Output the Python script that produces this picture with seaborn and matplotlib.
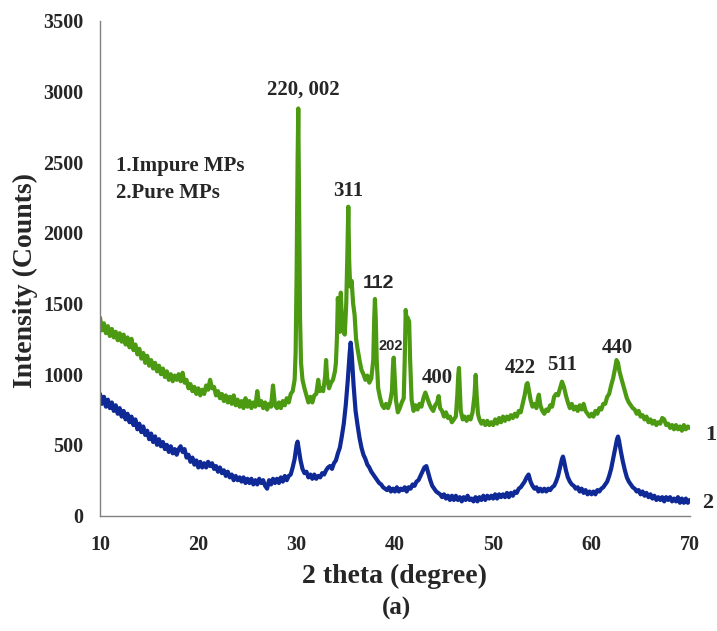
import matplotlib
matplotlib.use("Agg")
import matplotlib.pyplot as plt
import seaborn as sns
import pandas as pd

# ---------------- data ----------------
impure_pts = [
 (10.0,1400),(10.2,1310),(10.4,1360),(10.6,1290),(10.8,1340),(11.0,1270),(11.2,1320),(11.4,1260),(11.6,1300),(11.8,1240),
 (12.0,1290),(12.2,1230),(12.4,1280),(12.6,1210),(12.8,1260),(13.0,1190),(13.2,1250),(13.4,1170),(13.6,1210),(13.8,1140),
 (14.0,1180),(14.2,1110),(14.4,1150),(14.6,1080),(14.8,1130),(15.0,1060),(15.2,1100),(15.4,1040),(15.6,1080),(15.8,1020),
 (16.0,1060),(16.2,1000),(16.4,1040),(16.6,980),(16.8,1020),(17.0,960),(17.2,1000),(17.4,950),(17.6,990),(17.8,960),
 (18.0,1000),(18.2,950),(18.4,1010),(18.6,940),(18.8,960),(19.0,900),(19.2,930),(19.4,880),(19.6,910),(19.8,860),
 (20.0,900),(20.2,850),(20.4,890),(20.6,860),(20.8,920),(21.0,890),(21.2,960),(21.4,900),(21.6,910),(21.8,850),
 (22.0,880),(22.2,830),(22.4,860),(22.6,810),(22.8,850),(23.0,800),(23.2,840),(23.4,790),(23.6,850),(23.8,780),
 (24.0,820),(24.2,770),(24.4,810),(24.6,760),(24.8,830),(25.0,770),(25.2,810),(25.4,760),(25.6,800),(25.8,770),
 (26.0,880),(26.2,780),(26.4,810),(26.6,760),(26.8,800),(27.0,750),(27.2,790),(27.4,770),(27.6,920),(27.8,780),
 (28.0,760),(28.2,800),(28.4,760),(28.6,810),(28.8,780),(29.0,830),(29.2,800),(29.4,860),(29.6,880),(29.8,960),
 (29.9,1150),(30.0,1700),(30.1,2500),(30.17,2880),(30.25,2200),(30.35,1400),(30.45,1080),(30.6,960),(30.8,900),(31.0,850),
 (31.2,800),(31.4,840),(31.6,800),(31.8,850),(32.0,860),(32.2,960),(32.35,880),(32.5,900),(32.7,880),(32.9,980),
 (33.0,1100),(33.1,980),(33.3,900),(33.5,940),(33.7,960),(33.9,1020),(34.0,1080),(34.1,1250),(34.2,1540),(34.3,1350),
 (34.4,1300),(34.5,1577),(34.6,1400),(34.75,1300),(34.9,1280),(35.05,1500),(35.15,1800),(35.26,2185),(35.35,1800),(35.45,1620),
 (35.6,1660),(35.75,1500),(35.9,1420),(36.05,1250),(36.2,1180),(36.4,1100),(36.6,1030),(36.8,1000),(37.0,960),(37.2,990),
 (37.4,940),(37.6,970),(37.8,1100),(37.9,1400),(37.97,1532),(38.05,1400),(38.15,1100),(38.3,900),(38.5,830),(38.7,780),
 (38.9,760),(39.1,790),(39.3,760),(39.5,800),(39.7,880),(39.8,1050),(39.88,1117),(39.97,1000),(40.1,820),(40.3,730),
 (40.5,760),(40.7,800),(40.9,830),(41.0,1100),(41.1,1454),(41.2,1380),(41.3,1400),(41.45,1372),(41.55,1100),(41.7,820),
 (41.9,740),(42.1,780),(42.3,750),(42.5,790),(42.7,770),(42.9,830),(43.1,870),(43.3,830),(43.5,790),(43.7,760),
 (43.9,740),(44.1,780),(44.3,800),(44.45,845),(44.6,760),(44.8,740),(45.0,700),(45.2,730),(45.4,690),(45.6,700),
 (45.8,660),(46.0,680),(46.2,700),(46.35,850),(46.45,1000),(46.52,1044),(46.6,900),(46.7,740),(46.9,680),(47.1,700),
 (47.3,670),(47.5,700),(47.7,680),(47.9,730),(48.1,850),(48.22,995),(48.32,850),(48.45,720),(48.6,680),(48.8,650),
 (49.0,670),(49.2,640),(49.4,670),(49.6,640),(49.8,660),(50.0,640),(50.2,680),(50.4,650),(50.6,690),(50.8,660),
 (51.0,700),(51.2,670),(51.4,700),(51.6,680),(51.8,710),(52.0,690),(52.2,720),(52.4,700),(52.6,740),(52.8,730),
 (53.0,790),(53.2,850),(53.4,930),(53.5,937),(53.6,900),(53.8,820),(54.0,770),(54.2,790),(54.4,760),(54.55,830),
 (54.65,855),(54.8,780),(55.0,740),(55.2,720),(55.4,750),(55.6,740),(55.8,780),(56.0,770),(56.2,840),(56.4,860),
 (56.6,850),(56.8,900),(57.0,947),(57.2,910),(57.4,850),(57.6,800),(57.8,760),(58.0,790),(58.2,750),(58.4,770),
 (58.6,740),(58.8,780),(59.0,750),(59.2,790),(59.4,740),(59.6,720),(59.8,700),(60.0,720),(60.2,700),(60.4,740),
 (60.6,720),(60.8,760),(61.0,750),(61.2,790),(61.4,790),(61.6,840),(61.8,860),(62.0,920),(62.2,970),(62.4,1040),
 (62.55,1100),(62.7,1080),(62.85,1020),(63.0,980),(63.2,930),(63.4,880),(63.6,830),(63.8,800),(64.0,780),(64.2,760),
 (64.4,750),(64.6,720),(64.8,740),(65.0,700),(65.2,710),(65.4,680),(65.6,700),(65.8,660),(66.0,680),(66.2,650),
 (66.4,670),(66.6,640),(66.8,660),(67.0,650),(67.2,690),(67.4,680),(67.6,640),(67.8,650),(68.0,620),(68.2,640),
 (68.4,610),(68.6,640),(68.8,610),(69.0,630),(69.2,600),(69.4,640),(69.6,610),(69.8,630),(70.0,620),
]
pure_pts = [
 (10.0,860),(10.2,790),(10.4,840),(10.6,770),(10.8,820),(11.0,760),(11.2,800),(11.4,740),(11.6,780),(11.8,720),
 (12.0,760),(12.2,700),(12.4,740),(12.6,680),(12.8,720),(13.0,660),(13.2,700),(13.4,640),(13.6,680),(13.8,610),
 (14.0,650),(14.2,590),(14.4,630),(14.6,570),(14.8,600),(15.0,540),(15.2,580),(15.4,520),(15.6,560),(15.8,500),
 (16.0,540),(16.2,490),(16.4,520),(16.6,470),(16.8,500),(17.0,450),(17.2,490),(17.4,440),(17.6,470),(17.8,430),
 (18.0,470),(18.2,490),(18.4,450),(18.6,470),(18.8,410),(19.0,430),(19.2,380),(19.4,410),(19.6,360),(19.8,390),
 (20.0,340),(20.2,380),(20.4,340),(20.6,370),(20.8,340),(21.0,380),(21.2,350),(21.4,370),(21.6,330),(21.8,350),
 (22.0,310),(22.2,340),(22.4,300),(22.6,320),(22.8,280),(23.0,310),(23.2,270),(23.4,290),(23.6,250),(23.8,280),
 (24.0,250),(24.2,270),(24.4,240),(24.6,270),(24.8,230),(25.0,260),(25.2,230),(25.4,260),(25.6,220),(25.8,250),
 (26.0,220),(26.2,260),(26.4,230),(26.6,250),(26.8,210),(27.0,190),(27.2,250),(27.4,220),(27.6,260),(27.8,230),
 (28.0,260),(28.2,230),(28.4,270),(28.6,240),(28.8,280),(29.0,250),(29.2,280),(29.4,290),(29.6,340),(29.8,400),
 (30.0,500),(30.1,523),(30.2,480),(30.4,390),(30.6,330),(30.8,300),(31.0,310),(31.2,270),(31.4,290),(31.6,260),
 (31.8,290),(32.0,260),(32.2,280),(32.4,270),(32.6,300),(32.8,290),(33.0,320),(33.2,340),(33.4,350),(33.6,330),
 (33.8,370),(34.0,390),(34.2,440),(34.4,480),(34.6,560),(34.8,650),(35.0,780),(35.2,950),(35.4,1150),(35.5,1223),
 (35.6,1150),(35.8,920),(36.0,740),(36.2,640),(36.4,550),(36.6,480),(36.8,430),(37.0,400),(37.2,360),(37.4,340),
 (37.6,310),(37.8,290),(38.0,270),(38.2,250),(38.4,230),(38.6,220),(38.8,200),(39.0,190),(39.2,180),(39.4,200),
 (39.6,170),(39.8,190),(40.0,170),(40.2,200),(40.4,170),(40.6,190),(40.8,180),(41.0,200),(41.2,170),(41.4,200),
 (41.6,190),(41.8,220),(42.0,210),(42.2,240),(42.4,250),(42.6,280),(42.8,310),(43.0,340),(43.2,350),(43.4,300),
 (43.6,250),(43.8,210),(44.0,190),(44.2,170),(44.4,160),(44.6,150),(44.8,130),(45.0,150),(45.2,120),(45.4,140),
 (45.6,110),(45.8,140),(46.0,110),(46.2,140),(46.4,110),(46.6,130),(46.8,100),(47.0,130),(47.2,110),(47.4,140),
 (47.6,110),(47.8,120),(48.0,100),(48.2,130),(48.4,100),(48.6,130),(48.8,110),(49.0,140),(49.2,110),(49.4,140),
 (49.6,120),(49.8,140),(50.0,120),(50.2,150),(50.4,120),(50.6,150),(50.8,130),(51.0,150),(51.2,130),(51.4,160),
 (51.6,130),(51.8,160),(52.0,140),(52.2,170),(52.4,160),(52.6,190),(52.8,200),(53.0,220),(53.2,240),(53.4,270),
 (53.6,290),(53.8,240),(54.0,210),(54.2,190),(54.4,200),(54.6,170),(54.8,190),(55.0,170),(55.2,190),(55.4,170),
 (55.6,190),(55.8,180),(56.0,200),(56.2,210),(56.4,240),(56.6,280),(56.8,340),(57.0,400),(57.1,417),(57.2,390),
 (57.4,320),(57.6,270),(57.8,240),(58.0,220),(58.2,210),(58.4,190),(58.6,200),(58.8,170),(59.0,190),(59.2,160),
 (59.4,180),(59.6,150),(59.8,170),(60.0,150),(60.2,170),(60.4,150),(60.6,180),(60.8,170),(61.0,190),(61.2,200),
 (61.4,220),(61.6,240),(61.8,280),(62.0,330),(62.2,400),(62.4,470),(62.6,540),(62.7,559),(62.8,530),(63.0,450),
 (63.2,380),(63.4,320),(63.6,270),(63.8,240),(64.0,220),(64.2,200),(64.4,190),(64.6,170),(64.8,180),(65.0,150),
 (65.2,170),(65.4,140),(65.6,160),(65.8,130),(66.0,150),(66.2,120),(66.4,140),(66.6,110),(66.8,130),(67.0,110),
 (67.2,130),(67.4,100),(67.6,130),(67.8,110),(68.0,130),(68.2,100),(68.4,120),(68.6,100),(68.8,130),(69.0,90),
 (69.2,120),(69.4,90),(69.6,120),(69.8,90),(70.0,110),
]
x_impure = [p[0] for p in impure_pts]
y_impure = [p[1] for p in impure_pts]
x_pure = [p[0] for p in pure_pts]
y_pure = [p[1] for p in pure_pts]

peak_labels = ["220, 002", "311", "112", "202", "400", "422", "511", "440"]
peak_label_x = [30.64, 35.22, 38.37, 39.6, 44.27, 52.8, 57.03, 62.68]
peak_label_y = [3010, 2296, 1642, 1200, 970, 1041, 1063, 1184]

legend_lines = ["1.Impure MPs", "2.Pure MPs"]
legend_y = [2472, 2282]

x_ticks = [10, 20, 30, 40, 50, 60, 70]
y_ticks = [0, 500, 1000, 1500, 2000, 2500, 3000, 3500]

# ---------------- plotting ----------------
sns.set_theme(style="white")
serif = ["Liberation Serif", "DejaVu Serif"]
sans = ["Liberation Sans", "DejaVu Sans"]
plt.rcParams["font.family"] = serif
plt.rcParams["font.weight"] = "bold"

fig = plt.figure(figsize=(7.17, 6.31), dpi=100)
ax = fig.add_axes([0.1395, 0.183, 0.8225, 0.784])

green = "#4C9A12"
blue = "#0F2A96"
df1 = pd.DataFrame({"x": x_impure, "y": y_impure})
df2 = pd.DataFrame({"x": x_pure, "y": y_pure})
sns.lineplot(data=df1, x="x", y="y", ax=ax, color=green, lw=3.0, sort=False, estimator=None)
sns.lineplot(data=df2, x="x", y="y", ax=ax, color=blue, lw=3.0, sort=False, estimator=None)

ax.set_xlim(10, 70)
ax.set_ylim(0, 3500)
ax.set_xticks(x_ticks)
ax.set_yticks(y_ticks)
for s in ["top", "right"]:
    ax.spines[s].set_visible(False)
for s in ["left", "bottom"]:
    ax.spines[s].set_color("#808080")
    ax.spines[s].set_linewidth(1.0)
ax.tick_params(axis="both", direction="out", length=4, width=1, color="#808080",
               labelsize=14.5, pad=8)
ax.tick_params(axis="x", pad=10)
for lab in ax.get_xticklabels() + ax.get_yticklabels():
    lab.set_fontweight("bold")
    lab.set_family(serif)

ax.set_xlabel("2 theta (degree)", fontsize=20, fontweight="bold")
ax.set_ylabel("Intensity (Counts)", fontsize=20, fontweight="bold")
ax.xaxis.set_label_coords(0.5, (515.7 - 577) / 495)
ax.xaxis.label.set_va("center")
ax.yaxis.set_label_coords((25 - 100) / 590, (515.7 - 281) / 495)
ax.yaxis.label.set_va("center")

for lab, lx, ly in zip(peak_labels, peak_label_x, peak_label_y):
    if lab in ("112", "202"):
        fs = 14 if lab == "112" else 10.5
        ax.text(lx, ly, lab, ha="center", va="center", fontsize=fs, fontweight="bold", family=sans)
    else:
        ax.text(lx, ly, lab, ha="center", va="center", fontsize=15, fontweight="bold", family=serif)

for txt, ly in zip(legend_lines, legend_y):
    ax.text(11.63, ly, txt, ha="left", va="center", fontsize=15, fontweight="bold")

ax.text(72.1, 570, "1", ha="center", va="center", fontsize=16, fontweight="bold", clip_on=False)
ax.text(71.8, 86, "2", ha="center", va="center", fontsize=16, fontweight="bold", clip_on=False)

fig.text(397 / 717, 1 - 608 / 631, "(a)", ha="center", va="center", fontsize=18, fontweight="bold")

fig.savefig("out.png", dpi=100)
